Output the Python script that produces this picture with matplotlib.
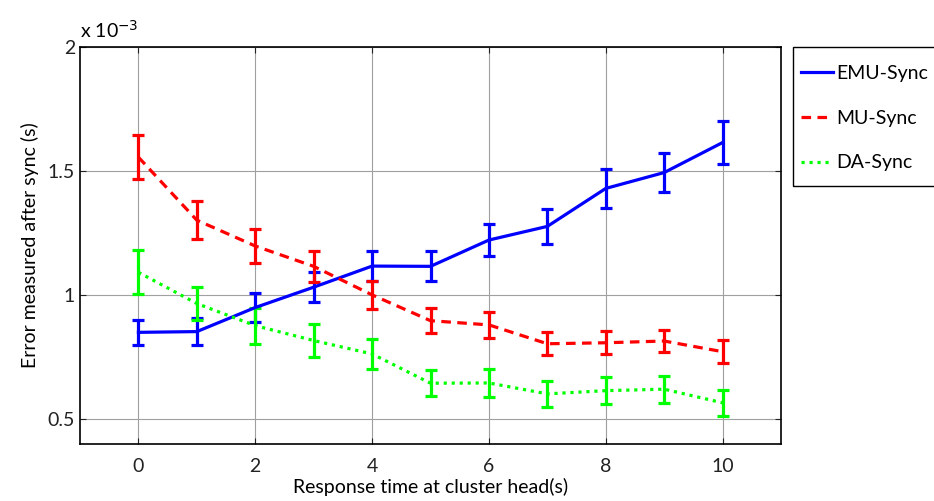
import matplotlib
matplotlib.use("Agg")
import matplotlib.pyplot as plt
from matplotlib.lines import Line2D
from matplotlib.patches import Rectangle

plt.rcParams['font.family'] = ['Lato', 'DejaVu Sans']

# response time at cluster head (s)
resp_time = [0, 1, 2, 3, 4, 5, 6, 7, 8, 9, 10]

# error after sync, in units of 1e-3 s
emu_mean = [0.850, 0.853, 0.950, 1.032, 1.117, 1.116, 1.222, 1.277, 1.430, 1.494, 1.615]
emu_err = [0.050, 0.055, 0.058, 0.060, 0.060, 0.060, 0.066, 0.070, 0.077, 0.078, 0.085]

mu_mean = [1.556, 1.302, 1.198, 1.116, 1.001, 0.897, 0.880, 0.804, 0.808, 0.815, 0.772]
mu_err = [0.088, 0.076, 0.067, 0.062, 0.055, 0.051, 0.053, 0.047, 0.047, 0.046, 0.046]

da_mean = [1.092, 0.966, 0.877, 0.817, 0.763, 0.645, 0.646, 0.602, 0.615, 0.621, 0.566]
da_err = [0.088, 0.067, 0.073, 0.068, 0.060, 0.052, 0.057, 0.052, 0.055, 0.055, 0.053]

series = [
    ('EMU-Sync', emu_mean, emu_err, '#0000ff', '-'),
    ('MU-Sync', mu_mean, mu_err, '#ff0000', (0, (3, 2))),
    ('DA-Sync', da_mean, da_err, '#00ff00', (0, (1, 1.5))),
]

fig = plt.figure(figsize=(9.34, 5.01), dpi=100)
ax = fig.add_axes([80 / 934, 1 - 444 / 501, 701 / 934, 397 / 501])

ax.grid(True, color='#a0a0a0', linewidth=0.8, zorder=0)
ax.set_axisbelow(True)

handles = []
for name, mean, err, col, ls in series:
    ax.errorbar(resp_time, mean, yerr=err, color=col, linestyle=ls, linewidth=2.3,
                elinewidth=2.3, capsize=4.5, capthick=2.3, zorder=3)
    handles.append(Line2D([], [], color=col, linestyle=ls, linewidth=2.3, label=name))

ax.set_xlim(-1, 11)
ax.set_ylim(0.4, 2.0)
ax.set_xticks([0, 2, 4, 6, 8, 10])
ax.set_yticks([0.5, 1, 1.5, 2])
ax.set_yticklabels(['0.5', '1', '1.5', '2'])
ax.tick_params(direction='in', top=True, right=True, length=4, labelsize=14, colors='#222222')
ax.tick_params(axis='x', pad=10)
for s in ax.spines.values():
    s.set_linewidth(1.2)

ax.set_xlabel('Response time at cluster head(s)', fontsize=14, labelpad=2)
ax.set_ylabel('Error measured after sync (s)', fontsize=14, labelpad=6)

ax.text(0.0, 1.015, r'x 10$^{-3}$', transform=ax.transAxes, fontsize=14,
        ha='left', va='bottom')

# legend box drawn separately so that it can run past the right edge
fig.add_artist(Rectangle((793 / 934, 1 - 186 / 501), 200 / 934, 139 / 501,
                         transform=fig.transFigure, fill=False,
                         edgecolor='black', linewidth=1.0))
fig.legend(handles=handles, loc='upper left', bbox_to_anchor=(793 / 934, 1 - 57 / 501),
           bbox_transform=fig.transFigure, fontsize=14, frameon=False,
           handlelength=1.65, handletextpad=0.2, labelspacing=1.43, borderpad=0.4,
           borderaxespad=0)

fig.savefig('out.png', dpi=100)
